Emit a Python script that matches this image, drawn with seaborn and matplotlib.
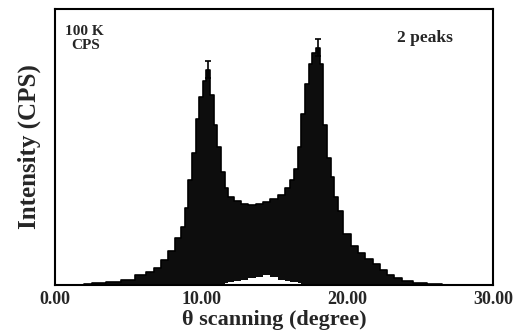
import numpy as np
import matplotlib
matplotlib.use("Agg")
import matplotlib.pyplot as plt
import seaborn as sns

# theta scan (degree) and intensity envelope (arbitrary, 100 = top of frame)
theta = [2.0, 3.0, 4.0, 5.0, 6.0, 6.5, 7.0, 7.5, 8.0, 8.5, 8.75, 9.0, 9.25, 9.5,
         9.75, 10.0, 10.25, 10.5, 10.75, 11.0, 11.25, 11.5, 11.75, 12.0, 12.5,
         13.0, 13.5, 14.0, 14.5, 15.0, 15.5, 16.0, 16.25, 16.5, 16.75, 17.0,
         17.25, 17.5, 17.75, 18.0, 18.25, 18.5, 18.75, 19.0, 19.25, 19.5, 20.0,
         20.5, 21.0, 21.5, 22.0, 22.5, 23.0, 23.5, 24.0, 25.0, 26.0, 27.0]
upper = [0.3, 0.6, 1.0, 2.0, 3.5, 4.7, 6.0, 9.0, 12.5, 17.0, 21.0, 28.0, 38.0, 48.0,
         60.0, 68.0, 74.0, 78.0, 69.0, 58.0, 50.0, 41.0, 35.0, 32.0, 30.5,
         29.5, 29.0, 29.5, 30.0, 31.0, 32.5, 35.0, 38.0, 42.0, 50.0, 62.0,
         73.0, 80.0, 84.0, 86.0, 80.0, 58.0, 46.0, 39.0, 32.0, 27.0, 18.5,
         14.0, 11.5, 9.5, 7.5, 5.5, 3.8, 2.5, 1.6, 0.7, 0.3, 0.0]
lower = [0, 0, 0, 0, 0, 0, 0, 0, 0, 0, 0, 0, 0, 0,
         0, 0, 0, 0, 0, 0, 0, 0.3, 0.7, 1.0, 1.5,
         2.0, 2.5, 3.0, 3.5, 3.0, 2.0, 1.5, 1.2, 1.0, 0.7, 0.4,
         0, 0, 0, 0, 0, 0, 0, 0, 0, 0, 0,
         0, 0, 0, 0, 0, 0, 0, 0, 0, 0, 0]
xticks = [0, 10, 20, 30]
xticklabels = ["0.00", "10.00", "20.00", "30.00"]

sns.set_style("white")
plt.rcParams["font.family"] = ["Liberation Serif", "DejaVu Serif"]
plt.rcParams["font.weight"] = "bold"

fig = plt.figure(figsize=(5.29, 3.33), dpi=100)
ax = fig.add_axes([0.104, 0.144, 0.828, 0.829])

sns.lineplot(x=theta, y=upper, ax=ax, color="black", lw=1.2, drawstyle="steps-mid")
ax.fill_between(theta, lower, upper, step="mid", color="#0d0d0d", lw=0)

# error-bar caps on the two peak maxima
pk = [int(np.argmax(upper[:30])), 30 + int(np.argmax(upper[30:]))]
ax.errorbar([theta[i] for i in pk], [upper[i] for i in pk], yerr=3, fmt="none",
            ecolor="black", elinewidth=1.2, capsize=2, capthick=1.2)

ax.set_xlim(0, 30)
ax.set_ylim(0, 100)
ax.set_xticks(xticks)
ax.set_xticklabels(xticklabels, fontsize=13, fontweight="bold")
ax.set_yticks([])
ax.tick_params(axis="x", length=0, pad=4)
for s in ax.spines.values():
    s.set_color("black")
    s.set_linewidth(1.5)

ax.set_xlabel("θ scanning (degree)", fontsize=16, fontweight="bold", labelpad=2)
ax.set_ylabel("Intensity (CPS)", fontsize=18, fontweight="bold", labelpad=10)

ax.text(0.066, 0.92, "100 K", transform=ax.transAxes, ha="center", va="center",
        fontsize=11, fontweight="bold")
ax.text(0.071, 0.866, "CPS", transform=ax.transAxes, ha="center", va="center",
        fontsize=11, fontweight="bold")
ax.text(0.845, 0.895, "2 peaks", transform=ax.transAxes, ha="center", va="center",
        fontsize=12.5, fontweight="bold")

fig.savefig("out.png", dpi=100)
